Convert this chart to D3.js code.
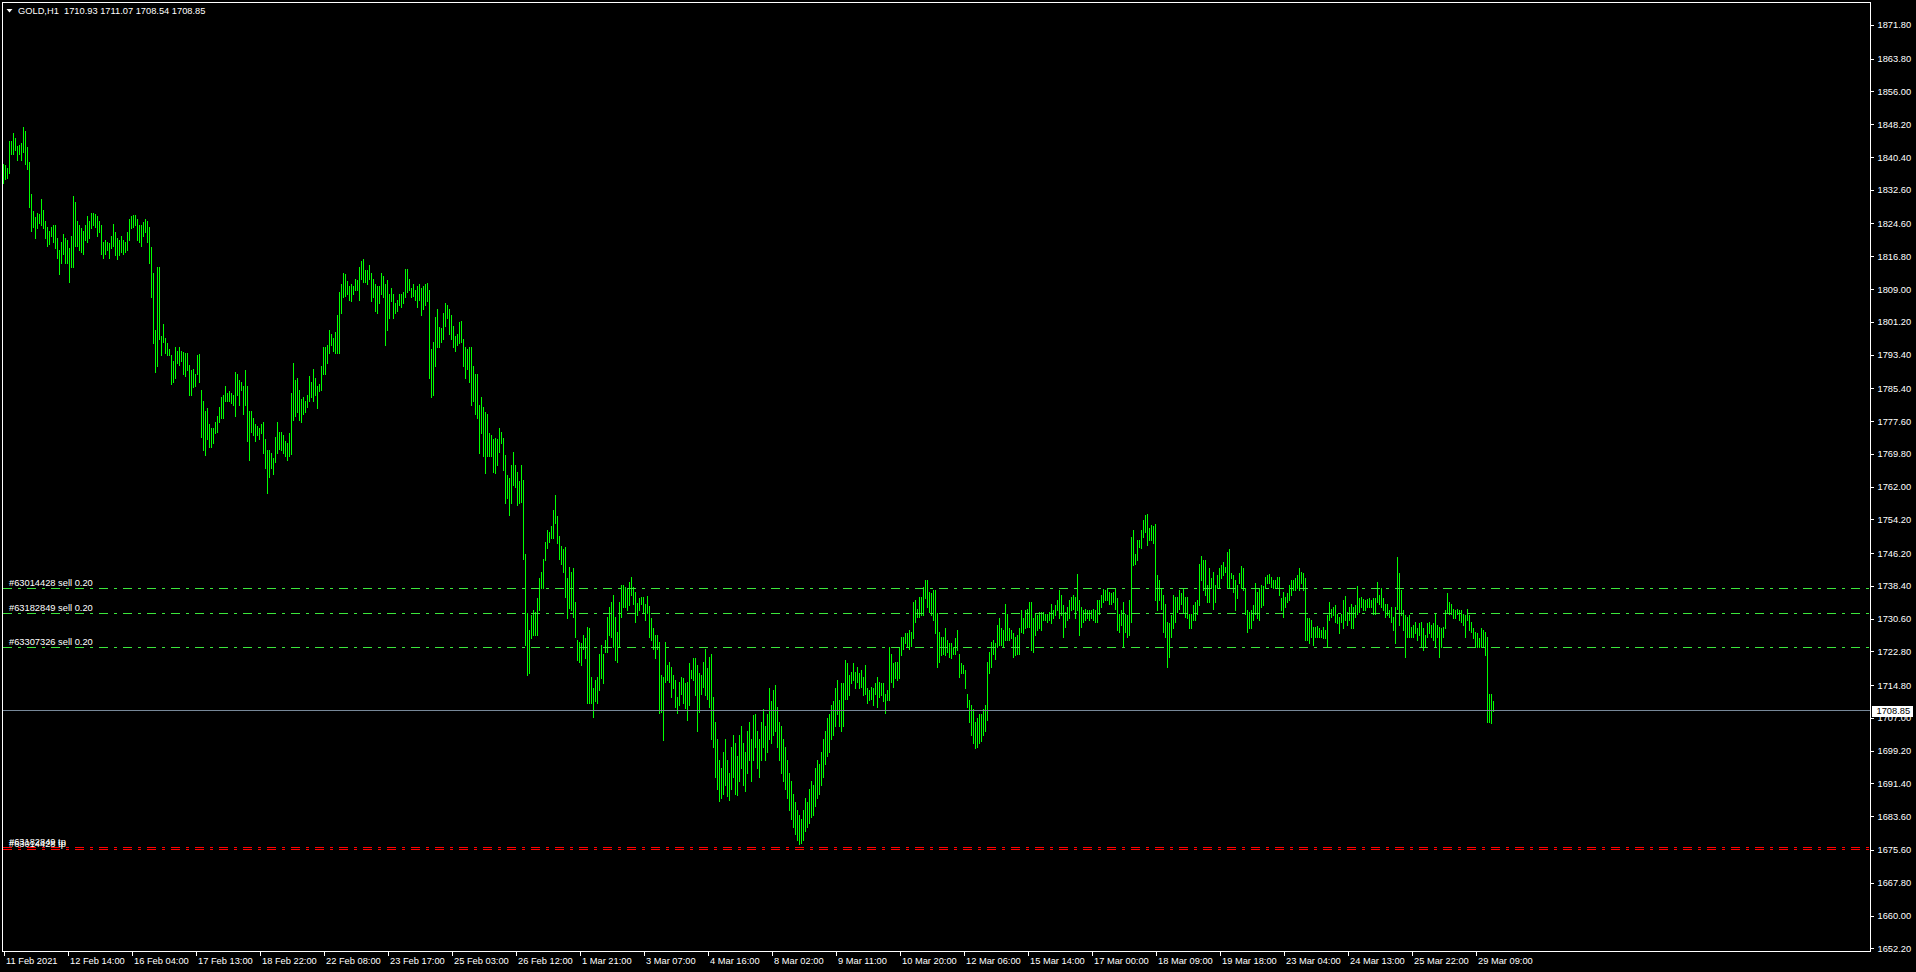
<!DOCTYPE html>
<html><head><meta charset="utf-8">
<script src="https://cdn.jsdelivr.net/npm/d3@7"></script>
<style>
html,body{margin:0;padding:0;background:#000;overflow:hidden;}
svg{display:block;}
text{font-family:"Liberation Sans",Arial,sans-serif;white-space:pre;}
</style></head><body>
<svg id="chart" width="1916" height="972"></svg>
<script>
// ---------------- data ----------------
const symbolTitle = "GOLD,H1";
const lastBarOHLC = ["1710.93", "1711.07", "1708.54", "1708.85"];
const bidPrice = 1708.85;

const priceTickLabels = ["1871.80","1863.80","1856.00","1848.20","1840.40","1832.60","1824.60","1816.80","1809.00","1801.20","1793.40","1785.40","1777.60","1769.80","1762.00","1754.20","1746.20","1738.40","1730.60","1722.80","1714.80","1707.00","1699.20","1691.40","1683.60","1675.60","1667.80","1660.00","1652.20"];

const timeTickLabels = ["11 Feb 2021","12 Feb 14:00","16 Feb 04:00","17 Feb 13:00","18 Feb 22:00","22 Feb 08:00","23 Feb 17:00","25 Feb 03:00","26 Feb 12:00","1 Mar 21:00","3 Mar 07:00","4 Mar 16:00","8 Mar 02:00","9 Mar 11:00","10 Mar 20:00","12 Mar 06:00","15 Mar 14:00","17 Mar 00:00","18 Mar 09:00","19 Mar 18:00","23 Mar 04:00","24 Mar 13:00","25 Mar 22:00","29 Mar 09:00"];
const barsPerTimeLabel = 32;

// hourly bar highs (H1), 11 Feb 2021 -> 29 Mar 2021
const barHigh = [
1838.8,1838.4,1837.9,1844.3,1844.3,1846.1,1845,1843,1843.2,1843.8,1847.6,1846.6,1842.7,1839.3,1831.6,1827.5,1826.1,1827,1826.8,1830.4,1827.9,1825.2,1823.8,1822.9,1823.8,1824.3,1824.3,1821.1,1818.4,1820.2,1822,1821.1,
1820.6,1818.8,1821.5,1831.1,1829.7,1825.2,1824.3,1823.4,1822.9,1824.3,1826.3,1825.2,1827,1827,1826.8,1826.3,1825.2,1824.3,1820.2,1820.6,1820.2,1819.9,1821.5,1824.5,1822.5,1821.1,1820.6,1821.5,1820.6,1820.2,1822.5,1825.6,
1826.3,1826.5,1826.5,1825.6,1824.3,1824.3,1825,1825.6,1825.2,1823.8,1819,1812.9,1799.2,1814.3,1814.3,1797.9,1800.8,1797.4,1796.1,1794.7,1793.3,1791.9,1795.1,1794.2,1795.1,1794.2,1794,1793.8,1793.8,1791,1789.7,1789.9,
1788.8,1793.3,1793.5,1785.1,1782.4,1780.1,1780.6,1776.9,1776,1776,1777.4,1778.7,1781,1783.3,1783.8,1786,1784.2,1784.7,1784.2,1783.8,1789.2,1788.8,1787.4,1787,1786,1789.7,1786,1780.1,1780.1,1778.3,1776.9,1776.5,
1776,1776.9,1777.4,1773.3,1770.6,1770.6,1770.1,1768.7,1773.8,1777.4,1775.1,1775.1,1774.2,1772.8,1772.4,1774.7,1784.2,1791.5,1787.4,1787.9,1785.1,1782.9,1783.3,1782.4,1783.8,1788.3,1787,1789.9,1787.9,1786,1786.5,1790.6,
1795.1,1795.1,1795.6,1799.2,1798.3,1797.4,1798.8,1802.9,1808.3,1810.2,1812.9,1812.6,1810.8,1809.7,1810.2,1809.7,1811.5,1811.1,1814.3,1815.6,1816.1,1813.5,1813.5,1814.7,1812.9,1811.5,1810.2,1809.7,1809.7,1812.9,1812,1810.2,
1811.1,1807.9,1809.2,1807.9,1805.6,1806.5,1807.9,1807.9,1808.3,1813.8,1813.8,1811.5,1809.2,1810.2,1808.8,1809.7,1810.2,1809.2,1809.7,1810.2,1810.4,1808.8,1794.7,1796.5,1802.4,1804.2,1799.9,1799.7,1803.3,1805.6,1805.3,1804.2,
1802.9,1800.2,1797.9,1798.3,1801.1,1801.5,1797,1795.1,1794.7,1795.1,1795.3,1790.6,1788.8,1788.8,1781.5,1783.3,1781,1779.7,1779.2,1774.7,1774.2,1773.3,1773.5,1773.3,1775.9,1775.1,1773.5,1769.5,1764.8,1764,1767.1,1770.3,
1767.1,1765.6,1763.4,1767.1,1763.6,1746.1,1731.9,1727.9,1731.5,1732.7,1732.3,1735.4,1740.2,1741.8,1744.9,1748.9,1751.7,1751.3,1752.6,1756.4,1760,1755,1750.2,1747.9,1747.1,1747.7,1740.2,1742.9,1741.8,1742.6,1734.6,1725.5,
1725.1,1724.7,1726.7,1725.9,1728.7,1728.3,1716.8,1714,1716,1716.8,1722.3,1724.3,1722.3,1725.5,1731.1,1733.4,1734.6,1736.2,1731.1,1727.5,1734.6,1738.6,1738.6,1738.2,1737.8,1739.4,1740.6,1738.2,1737,1734.4,1735.4,1735.8,
1735.8,1734.2,1736,1733.6,1730.7,1728.3,1726.7,1726.7,1725.1,1717.2,1716.8,1725.1,1719.6,1720.4,1719.2,1717.2,1716,1712,1715.6,1716.8,1716.4,1715.2,1715.6,1720,1718.4,1721.2,1721.2,1719.6,1717.6,1717.2,1720.4,1723.5,
1718.8,1721.6,1722.3,1712,1706,1702,1697,1695,1699,1702,1697,1694,1700,1703,1701,1698,1703,1705,1701,1699,1704,1706,1702,1707.7,1708,1704,1702,1706,1709,1705,1708,1714,
1711,1713.6,1714.9,1709.7,1706,1705,1702,1700,1697,1694,1692,1689,1687,1685,1684,1683,1685,1688,1687,1690,1692,1691,1695,1697,1696,1699,1702,1704,1707,1708,1710,1711,
1714,1716,1711.2,1715.2,1715.2,1720.7,1720,1717.2,1718,1720,1718,1719.2,1717.6,1718.4,1716.8,1719.6,1714,1713.6,1714.4,1714,1715.2,1716.8,1715.6,1715.2,1715.2,1712.8,1713.6,1723.9,1722.3,1720,1720.4,1720.4,
1723.9,1726.3,1726.3,1727.1,1727.1,1727.9,1727.5,1734.6,1735,1732.8,1735.8,1735.8,1738.2,1739.8,1739.9,1737,1736.6,1737.4,1737.4,1731.9,1727.5,1726.3,1726.3,1728.3,1725.5,1724.7,1724.7,1723.9,1725.9,1727.9,1722.3,1720,
1719.6,1718.4,1712.8,1711.2,1710,1709,1706,1707,1708,1708,1709,1710,1720.4,1722.7,1725.1,1725.5,1724.7,1729.1,1730.7,1728.3,1727.9,1734.1,1731.8,1728.3,1727.9,1727.1,1726.3,1726.7,1728.3,1732.6,1730.7,1732.6,
1733,1734.6,1734.6,1730.7,1731.8,1731.4,1732.2,1732.2,1732.2,1731.8,1731.8,1732.2,1734.2,1732.6,1733.8,1735,1737.4,1736.2,1733.8,1732.2,1733.4,1735,1735.8,1736.2,1735.8,1741.2,1735,1733.4,1732.6,1733,1732.6,1732.6,
1732.6,1733,1732.6,1735,1735,1736.2,1737.6,1737.4,1737.8,1737,1736.6,1737,1737.6,1735.4,1731.8,1732.6,1734.6,1731.8,1731.4,1735,1750.1,1751.7,1746.1,1749.3,1749.3,1751.7,1754.1,1755.2,1755.6,1752.1,1752.9,1752.6,
1753.1,1741,1739.8,1737.8,1736.2,1734.2,1729.9,1729.5,1731.4,1736.2,1735.8,1735.8,1737.4,1736.6,1737.8,1735.8,1735.8,1731.8,1731.8,1733.8,1734.6,1735,1743.7,1745.5,1744.5,1744.5,1738.6,1742.6,1740.2,1741.8,1738.6,1741,
1742.6,1743.3,1744.1,1743,1746.5,1747.1,1741.4,1741,1739.8,1738.6,1741.4,1743.1,1742.6,1737.8,1732.6,1732.2,1732.6,1733.8,1739,1737,1737.8,1738.6,1738.3,1740.6,1741,1741.2,1740.6,1739.8,1739.9,1740.6,1740.6,1735.4,
1737,1735.8,1736.6,1738.6,1739.8,1739.9,1740.2,1741,1742.6,1741.8,1741.4,1740.2,1730.7,1730.7,1730.3,1728.7,1728.7,1728.8,1728.3,1727.9,1728.7,1727.9,1731.5,1734.6,1733,1733.4,1733.8,1731.8,1731.1,1731.8,1735,1736,
1732.2,1733.4,1734.2,1733.4,1733.8,1738.3,1735.4,1735.7,1735.2,1735,1735.2,1735.4,1735,1735.4,1735.4,1739.4,1736.2,1737.8,1735.4,1734.2,1734.2,1732.6,1733.4,1731.1,1733.4,1745.3,1741.4,1737.4,1732.6,1731.4,1731.1,1731.4,
1728.7,1729.1,1729.9,1728.3,1729.5,1729.9,1728.3,1726.7,1729.5,1729.9,1729.1,1729.5,1731.8,1729.1,1728.7,1728.3,1728.7,1732.6,1736.6,1734.6,1734.2,1733,1732.6,1733,1732.6,1732.6,1731.8,1731.4,1733,1731.4,1729.9,1728.3,1727.5,1727.1,1725.9,1728.3,1727.9,1727.5,1726.3,1712.8,1712.8,1711.07
];

// hourly bar lows
const barLow = [
1834.3,1835.2,1835.4,1836.6,1841.1,1841.1,1842,1839.7,1841.1,1839.7,1841.6,1838.8,1837.5,1828.4,1822.9,1823.8,1821.1,1823.4,1824.7,1824.3,1823.4,1821.1,1819.3,1819.7,1821.5,1820.2,1818.8,1816.5,1812.6,1815.2,1817.4,1815.2,
1815.2,1810.6,1814.3,1814.3,1819.3,1819.3,1818.4,1817.9,1817.4,1820.6,1820.2,1821.1,1823.4,1824.3,1823.8,1821.5,1822.5,1817.4,1816.5,1817.4,1818.4,1816.5,1818.8,1819.3,1817,1816.1,1817,1817.9,1817.4,1817.9,1818.4,1820.6,
1823.4,1823.8,1824.3,1820.6,1820.2,1819.3,1821.5,1822.5,1820.2,1815.2,1807,1796.1,1789.2,1790.6,1797,1793.3,1796.5,1793.8,1793.3,1793.3,1786.5,1787,1787.9,1791.5,1791,1792,1788.8,1788.3,1789.7,1783.8,1783.8,1785.6,
1786,1788.8,1787,1773.8,1770.6,1769.6,1773.3,1771.5,1771.5,1772.4,1774.7,1775.1,1777.4,1778.3,1778.3,1782.4,1782.4,1782.4,1781.9,1781.5,1778.7,1783.8,1781.5,1785.1,1779.2,1781.5,1772.8,1768.3,1775.1,1774.2,1772.8,1774.2,
1773.3,1774.7,1770.1,1766.5,1760.5,1764.2,1766.5,1765.1,1767.8,1770.1,1771,1770.6,1770.1,1769.2,1768.3,1769.2,1769.7,1777.9,1778.7,1779.7,1777.9,1777.4,1779.2,1779.7,1781,1782.4,1783.3,1782.4,1783.8,1780.6,1784.7,1785.1,
1788.8,1788.8,1791.5,1793.8,1795.6,1794.2,1793.8,1793.8,1793.8,1803.3,1807,1807.4,1807.9,1806.5,1806.1,1807.9,1808.8,1808.8,1806.5,1811.5,1810.6,1810.6,1810.2,1811.5,1806.1,1807,1803.8,1803.3,1805.6,1807.9,1807,1795.6,
1799.2,1802,1806.1,1802,1803.3,1803.8,1805.2,1804.7,1805.6,1807,1808.3,1808.8,1807,1807.4,1806.5,1804.7,1806.5,1802.9,1804.2,1805.2,1806.1,1787.9,1783.3,1783.8,1790.6,1795.1,1795.1,1796.5,1797,1800.2,1802,1798.3,
1797,1795.1,1794.2,1795.6,1796.1,1796.5,1790.6,1787.9,1790.1,1787,1781.5,1782.4,1779.2,1778.3,1770.1,1774.7,1769.2,1765.3,1769.2,1769.2,1769.2,1765.6,1765.2,1767.1,1770.3,1772.3,1765.9,1758,1759.2,1755.3,1758,1762.4,
1762,1757.6,1758,1758.4,1744.9,1724.3,1717.2,1717.6,1725.9,1726.7,1726.7,1726.7,1732.7,1737.8,1737.8,1744.5,1747.3,1748.9,1749.7,1749.7,1753.3,1748.5,1744.9,1743.7,1741.8,1735.8,1730.7,1733.1,1732.7,1731.1,1726.3,1720.8,
1720.4,1719.6,1723.5,1721.2,1710.5,1710.5,1710.5,1707.1,1710.9,1710.5,1713.6,1716.4,1715.2,1722.7,1722.7,1726.7,1726.3,1723.9,1720.8,1720.4,1723.9,1731.1,1733.4,1733.4,1732.7,1733.8,1736.2,1734.2,1729.9,1731.5,1732.7,1734.2,
1731.9,1730.3,1731.9,1726.3,1725.5,1723.5,1721.2,1723.5,1708.1,1708.5,1701.8,1715.6,1716,1715.6,1712,1714,1709.7,1708.1,1710.1,1712.8,1710.5,1709.3,1706.5,1710.1,1716.4,1716,1712.4,1704,1708.5,1712.8,1714.4,1712.4,
1711.6,1709.7,1702,1700,1693,1690,1687.3,1688,1689,1691,1688.5,1687.5,1690,1693,1689,1688.7,1692,1695,1691,1689.5,1694,1697,1692,1697,1700,1695,1693,1697,1700,1697,1699,1702,
1701,1703,1704,1700,1697,1694,1692,1690,1688,1685,1683,1681,1679.5,1678,1677.1,1677.3,1678,1680,1681,1682,1683.5,1684,1686,1688,1689,1691,1693,1696,1698,1699,1702,1703,
1705,1708,1705,1704,1705,1711.6,1711.6,1712.4,1715.2,1716,1714,1715.6,1714,1714.4,1712.4,1712.8,1710.5,1711.2,1711.6,1710.1,1712.8,1709.7,1712,1712.4,1710.9,1708.1,1711.2,1711.2,1715.6,1714.4,1716.4,1716,
1716.4,1721.9,1723.5,1724.7,1724,1723.5,1724,1725.9,1729.9,1731.1,1731.1,1731.5,1731.5,1735.4,1733.4,1732.3,1731.5,1730.3,1727.1,1719.2,1720.4,1721.9,1722.3,1721.9,1722.7,1721.5,1721.2,1722.3,1722.3,1723.1,1716.8,1717.6,
1717.6,1714,1709.7,1706,1703,1701,1699.8,1700,1701,1701.5,1703,1704,1706.5,1717.6,1719.2,1722.3,1721.1,1723.9,1724.3,1724.3,1723.9,1725.5,1725.5,1725.5,1725.9,1721.5,1721.9,1722.3,1722.3,1727.5,1727.1,1728.3,
1728.7,1728.7,1723.1,1722.7,1726.7,1727.9,1728.3,1727.9,1730.3,1730.3,1729.9,1730.3,1729.5,1730.7,1731.4,1732.6,1730.7,1731.4,1726.3,1728.7,1730.3,1730.7,1732.6,1733,1730.7,1732.6,1726.7,1728.7,1729.9,1730.3,1730.7,1730.3,
1730.7,1730.3,1729.9,1729.9,1731.8,1733.4,1734.6,1735,1735,1734.2,1734.2,1734.6,1733,1727.9,1727.5,1729.1,1723.9,1727.5,1726.3,1726.7,1729.9,1743.3,1743.7,1744.5,1747.7,1747.3,1750.1,1751.3,1748.1,1749.3,1749.3,1748.5,
1735,1732.6,1735,1733,1727.5,1726.3,1719.2,1721.5,1726.3,1728.3,1729.9,1732.2,1733,1734.2,1732.2,1731.1,1730.7,1728.3,1728.3,1730.3,1730.3,1731.8,1733.8,1739.8,1737.4,1736.2,1734.6,1734.6,1737.8,1733,1734.6,1737.8,
1738.2,1740.2,1741,1741.8,1737.8,1737.8,1740.2,1737,1732.6,1735.4,1739,1737.8,1737.4,1731.8,1727.5,1728.3,1728.3,1730.3,1731.8,1730.7,1730.3,1733.4,1733.8,1737.8,1739,1739,1738.2,1737.8,1738.2,1737.8,1736.2,1732.6,
1731.1,1733.4,1734.6,1735,1736.2,1737.4,1737.4,1737.8,1737.4,1739,1737.4,1725.5,1725.5,1724.7,1726.3,1724.3,1726.3,1726.3,1726.3,1726.3,1725.9,1725.9,1723.9,1730.3,1731.1,1731.4,1729.9,1729.5,1727.1,1729.9,1728.3,1730.3,
1729.1,1730.3,1728.3,1728.3,1731.1,1731.8,1732.2,1733.4,1732.6,1732.6,1733.4,1733.4,1733.4,1731.8,1731.8,1734.6,1734.2,1733.4,1732.6,1731.1,1731.4,1731.1,1729.9,1727.9,1724.7,1733,1729,1731.4,1727.9,1721.5,1726.3,1726.3,
1726.3,1726.3,1727.1,1725.5,1726.7,1723.9,1723.1,1723.9,1726.3,1727.1,1726.3,1725.5,1723.9,1726.3,1721.5,1723.9,1726.3,1728.3,1732.2,1731.8,1731.8,1730.7,1730.7,1731.8,1730.3,1729.9,1729.1,1726.3,1730.3,1727.9,1727.5,1725.9,1723.9,1723.9,1723.9,1723.9,1723.9,1721.9,1706.1,1706.1,1705.7,1708.54
];

// open orders and their take-profit levels
const orderLabels = ["#63014428 sell 0.20", "#63182849 sell 0.20", "#63307326 sell 0.20"];
const orderPrices = [1737.8, 1731.86, 1723.85];
const tpLabels = ["#63182849 tp", "#63014428 tp"];
const tpPrices = [1676.2, 1675.7];

// ---------------- drawing ----------------
const W = 1916, H = 972;
const frame = {left: 2.5, top: 2.5, right: 1870.5, bottom: 951.5};
const barColor = "#00ff00";
const orderColor = "#3ce63c";
const tpColor = "#ff0000";
const bidColor = "#778899";
const fg = "#ffffff";

const svg = d3.select("#chart");
svg.append("rect").attr("width", W).attr("height", H).attr("fill", "#000");

const n = barHigh.length;
const x = d3.scaleLinear().domain([0, n - 1]).range([3, 3 + 2 * (n - 1)]);
const y = d3.scaleLinear().domain([1652.2, 1871.8]).range([948.3, 25]);

const plot = svg.append("g");

// bars (high-low lines)
plot.append("g").attr("shape-rendering", "crispEdges")
  .selectAll("rect").data(barHigh).join("rect")
  .attr("x", (d, i) => x(i))
  .attr("width", 1)
  .attr("y", (d, i) => Math.round(y(d)))
  .attr("height", (d, i) => Math.max(1, Math.round(y(barLow[i])) - Math.round(y(d)) + 1))
  .attr("fill", barColor);

const dashDot = "9,6,3,6";
const px = v => Math.round(y(v)) + 0.5;

// order lines
const og = plot.append("g");
og.selectAll("line").data(orderPrices).join("line")
  .attr("x1", frame.left + 0.5).attr("x2", frame.right - 0.5)
  .attr("y1", d => px(d)).attr("y2", d => px(d))
  .attr("stroke", orderColor).attr("stroke-width", 1)
  .attr("stroke-dasharray", dashDot).attr("shape-rendering", "crispEdges");
og.selectAll("text").data(orderLabels).join("text")
  .attr("x", 9).attr("y", (d, i) => px(orderPrices[i]) - 2.5)
  .attr("fill", fg).attr("font-size", "9.3px").text(d => d);

// take-profit lines
const tg = plot.append("g");
tg.selectAll("line").data(tpPrices).join("line")
  .attr("x1", frame.left + 0.5).attr("x2", frame.right - 0.5)
  .attr("y1", d => px(d)).attr("y2", d => px(d))
  .attr("stroke", tpColor).attr("stroke-width", 1)
  .attr("stroke-dasharray", dashDot).attr("shape-rendering", "crispEdges");
tg.selectAll("text").data(tpLabels).join("text")
  .attr("x", 9).attr("y", (d, i) => px(tpPrices[i]) - 2.5)
  .attr("fill", fg).attr("font-size", "9.3px").text(d => d);

// bid line
plot.append("line")
  .attr("x1", frame.left + 0.5).attr("x2", frame.right - 0.5)
  .attr("y1", px(bidPrice)).attr("y2", px(bidPrice))
  .attr("stroke", bidColor).attr("shape-rendering", "crispEdges");

// frame
svg.append("rect")
  .attr("x", frame.left).attr("y", frame.top)
  .attr("width", frame.right - frame.left).attr("height", frame.bottom - frame.top)
  .attr("fill", "none").attr("stroke", fg).attr("stroke-width", 1)
  .attr("shape-rendering", "crispEdges");

// price axis
const yAxis = d3.axisRight(y)
  .tickValues(priceTickLabels.map(Number))
  .tickFormat((d, i) => priceTickLabels[i])
  .tickSize(3).tickPadding(4);
const ya = svg.append("g").attr("transform", `translate(${frame.right},0)`).call(yAxis);
ya.select(".domain").remove();
ya.selectAll(".tick line").attr("stroke", fg).attr("shape-rendering", "crispEdges");
ya.selectAll(".tick text").attr("fill", fg).attr("font-size", "9.3px")
  .attr("font-family", "Liberation Sans, Arial, sans-serif");

// time axis
const tIdx = timeTickLabels.map((d, i) => i * barsPerTimeLabel);
const xAxis = d3.axisBottom(x)
  .tickValues(tIdx)
  .tickFormat((d, i) => timeTickLabels[i])
  .tickSize(4);
const xa = svg.append("g").attr("transform", `translate(0.5,${frame.bottom})`).call(xAxis);
xa.select(".domain").remove();
xa.selectAll(".tick line").attr("stroke", fg).attr("shape-rendering", "crispEdges");
xa.selectAll(".tick text").attr("fill", fg).attr("font-size", "9.3px")
  .attr("font-family", "Liberation Sans, Arial, sans-serif")
  .attr("text-anchor", "start").attr("x", 2).attr("y", 6);

// bid price label
const by = px(bidPrice);
svg.append("rect").attr("x", 1871.5).attr("y", by - 5).attr("width", 41).attr("height", 11)
  .attr("fill", "#fff").attr("shape-rendering", "crispEdges");
svg.append("text").attr("x", 1876.5).attr("y", by + 3.8)
  .attr("fill", "#000").attr("font-size", "9.3px").text(bidPrice.toFixed(2));

// title
svg.append("path").attr("d", "M6.5,9 L12.5,9 L9.5,12.5 Z").attr("fill", fg);
svg.append("text").attr("x", 18).attr("y", 14)
  .attr("fill", fg).attr("font-size", "9.3px")
  .text(symbolTitle + "  " + lastBarOHLC.join(" "));
</script>
</body></html>
